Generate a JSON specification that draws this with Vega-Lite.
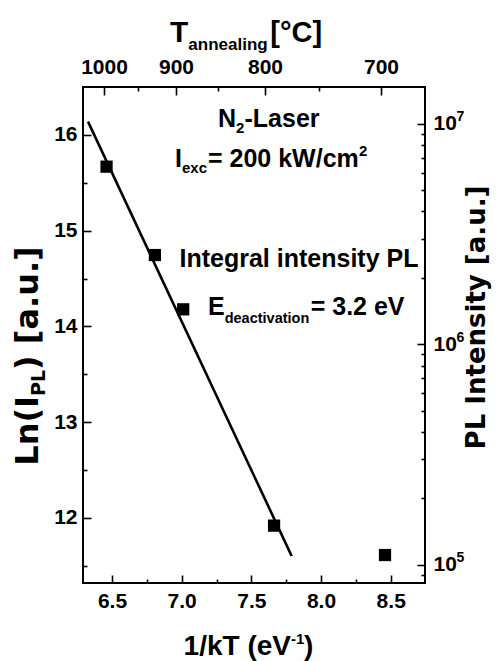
{
  "$schema": "https://vega.github.io/schema/vega-lite/v6.json",
  "width": 342,
  "height": 496,
  "autosize": {"type": "none"},
  "padding": {"left": 83, "top": 87, "right": 77, "bottom": 78},
  "config": {
    "font": "Liberation Sans",
    "view": {"stroke": "#000", "strokeWidth": 2},
    "axis": {"domain": false, "grid": false, "tickColor": "#000", "tickWidth": 1.6, "labelFont": "Liberation Sans", "labelFontWeight": "bold", "labelFontSize": 21, "labelColor": "#000", "titleFont": "Liberation Sans", "titleFontWeight": "bold", "titleFontSize": 27, "titleColor": "#000", "labelFlush": false, "labelOverlap": false},
    "text": {"font": "Liberation Sans", "fontWeight": "bold", "color": "#000"}
  },
  "datasets": {
    "pts": [
      {"x": 6.461, "y": 15.669},
      {"x": 6.808, "y": 14.746},
      {"x": 7.011, "y": 14.179},
      {"x": 7.663, "y": 11.92},
      {"x": 8.459, "y": 11.613}
    ],
    "fit": [
      {"x": 6.328, "y": 16.139},
      {"x": 7.789, "y": 11.603}
    ],
    "one": [{}]
  },
  "resolve": {"axis": {"x": "independent", "y": "independent"}},
  "layer": [
    {
      "data": {"name": "pts"},
      "mark": {"type": "square", "size": 150, "filled": true, "color": "#000", "opacity": 1},
      "encoding": {
        "x": {"field": "x", "type": "quantitative", "scale": {"domain": [6.292, 8.746], "nice": false, "zero": false},
              "axis": {"orient": "bottom", "values": [6.5, 7, 7.5, 8, 8.5], "format": ".1f", "tickSize": -8, "labelPadding": 15, "title": null}},
        "y": {"field": "y", "type": "quantitative", "scale": {"domain": [11.321, 16.501], "nice": false, "zero": false},
              "axis": {"orient": "left", "values": [12, 13, 14, 15, 16], "tickSize": -8, "labelPadding": 14, "title": null}}
      }
    },
    {
      "data": {"name": "fit"},
      "mark": {"type": "line", "color": "#000", "strokeWidth": 2.6},
      "encoding": {
        "x": {"field": "x", "type": "quantitative", "scale": {"domain": [6.292, 8.746], "nice": false, "zero": false}, "axis": null},
        "y": {"field": "y", "type": "quantitative", "scale": {"domain": [11.321, 16.501], "nice": false, "zero": false}, "axis": null}
      }
    },
    {
      "data": {"name": "pts"},
      "mark": {"type": "point", "opacity": 0},
      "encoding": {
        "x": {"field": "x", "type": "quantitative", "scale": {"domain": [6.292, 8.746], "nice": false, "zero": false},
              "axis": {"orient": "bottom", "values": [6.75, 7.25, 7.75, 8.25], "labels": false, "tickSize": -4, "title": null}},
        "y": {"field": "y", "type": "quantitative", "scale": {"domain": [11.321, 16.501], "nice": false, "zero": false},
              "axis": {"orient": "left", "values": [11.5, 12.5, 13.5, 14.5, 15.5], "labels": false, "tickSize": -4, "title": null}}
      }
    },
    {
      "data": {"name": "pts"},
      "mark": {"type": "point", "opacity": 0},
      "encoding": {
        "x": {"field": "x", "type": "quantitative", "scale": {"domain": [6.292, 8.746], "nice": false, "zero": false},
              "axis": {"orient": "top", "values": [6.4427, 6.9593, 7.5979, 8.4302], "labelExpr": "datum.value < 6.7 ? '1000' : datum.value < 7.3 ? '900' : datum.value < 8 ? '800' : '700'", "tickSize": -8, "labelPadding": 18, "title": null}},
        "y": {"field": "y", "type": "quantitative", "scale": {"domain": [11.321, 16.501], "nice": false, "zero": false},
              "axis": {"orient": "right", "values": [11.5129, 13.8155, 16.1181], "labelExpr": "'10'", "tickSize": -8, "labelPadding": 16, "title": null}}
      }
    },
    {
      "data": {"name": "pts"},
      "mark": {"type": "point", "opacity": 0},
      "encoding": {
        "x": {"field": "x", "type": "quantitative", "scale": {"domain": [6.292, 8.746], "nice": false, "zero": false},
              "axis": {"orient": "top", "values": [6.6888, 7.2585, 7.9875], "labels": false, "tickSize": -4, "title": null}},
        "y": {"field": "y", "type": "quantitative", "scale": {"domain": [11.321, 16.501], "nice": false, "zero": false},
              "axis": {"orient": "right", "values": [11.4076, 12.2061, 12.6115, 12.8992, 13.1224, 13.3047, 13.4588, 13.5924, 13.7102, 14.5087, 14.9141, 15.2018, 15.4249, 15.6073, 15.7614, 15.895, 16.0128], "labels": false, "tickSize": -4, "title": null}}
      }
    },
    {
      "data": {"name": "pts"},
      "mark": {"type": "point", "opacity": 0},
      "encoding": {
        "x": {"field": "x", "type": "quantitative", "scale": {"domain": [6.292, 8.746], "nice": false, "zero": false}, "axis": null},
        "y": {"field": "y", "type": "quantitative", "scale": {"domain": [11.321, 16.501], "nice": false, "zero": false},
              "axis": {"orient": "right", "values": [11.5129, 13.8155, 16.1181], "labelExpr": "datum.value < 12 ? '5' : datum.value < 15 ? '6' : '7'", "ticks": false, "labelPadding": 31, "labelOffset": -7, "labelFontSize": 14, "labelAlign": "left", "title": "PL Intensity [a.u.]", "titleFont": "DejaVu Sans", "titleFontSize": 26, "titleAngle": 270, "titlePadding": 26, "titleY": 230}}
      }
    },
    {
      "data": {"name": "one"},
      "mark": {"type": "text", "text": "T", "align": "right", "baseline": "alphabetic", "fontSize": 30},
      "encoding": {"x": {"datum": 7.0476, "type": "quantitative", "scale": {"domain": [6.292, 8.746], "nice": false, "zero": false}, "axis": null},
                   "y": {"datum": 16.971, "type": "quantitative", "scale": {"domain": [11.321, 16.501], "nice": false, "zero": false}, "axis": null}}
    },
    {
      "data": {"name": "one"},
      "mark": {"type": "text", "text": "annealing", "align": "left", "baseline": "alphabetic", "fontSize": 17, "dy": 8},
      "encoding": {"x": {"datum": 7.0476, "type": "quantitative", "scale": {"domain": [6.292, 8.746], "nice": false, "zero": false}, "axis": null},
                   "y": {"datum": 16.971, "type": "quantitative", "scale": {"domain": [11.321, 16.501], "nice": false, "zero": false}, "axis": null}}
    },
    {
      "data": {"name": "one"},
      "mark": {"type": "text", "text": "[°C]", "align": "left", "baseline": "alphabetic", "fontSize": 29, "dx": 82},
      "encoding": {"x": {"datum": 7.0476, "type": "quantitative", "scale": {"domain": [6.292, 8.746], "nice": false, "zero": false}, "axis": null},
                   "y": {"datum": 16.971, "type": "quantitative", "scale": {"domain": [11.321, 16.501], "nice": false, "zero": false}, "axis": null}}
    },
    {
      "data": {"name": "one"},
      "mark": {"type": "text", "text": "1/kT (eV", "align": "right", "baseline": "alphabetic", "fontSize": 28},
      "encoding": {"x": {"datum": 7.7845, "type": "quantitative", "scale": {"domain": [6.292, 8.746], "nice": false, "zero": false}, "axis": null},
                   "y": {"datum": 10.569, "type": "quantitative", "scale": {"domain": [11.321, 16.501], "nice": false, "zero": false}, "axis": null}}
    },
    {
      "data": {"name": "one"},
      "mark": {"type": "text", "text": "-1", "align": "left", "baseline": "alphabetic", "fontSize": 15, "dy": -11},
      "encoding": {"x": {"datum": 7.7845, "type": "quantitative", "scale": {"domain": [6.292, 8.746], "nice": false, "zero": false}, "axis": null},
                   "y": {"datum": 10.569, "type": "quantitative", "scale": {"domain": [11.321, 16.501], "nice": false, "zero": false}, "axis": null}}
    },
    {
      "data": {"name": "one"},
      "mark": {"type": "text", "text": ")", "align": "left", "baseline": "alphabetic", "fontSize": 28, "dx": 13},
      "encoding": {"x": {"datum": 7.7845, "type": "quantitative", "scale": {"domain": [6.292, 8.746], "nice": false, "zero": false}, "axis": null},
                   "y": {"datum": 10.569, "type": "quantitative", "scale": {"domain": [11.321, 16.501], "nice": false, "zero": false}, "axis": null}}
    },
    {
      "data": {"name": "one"},
      "mark": {"type": "text", "text": "Ln(I", "align": "right", "baseline": "alphabetic", "fontSize": 32, "angle": 270, "font": "DejaVu Sans"},
      "encoding": {"x": {"datum": 5.969, "type": "quantitative", "scale": {"domain": [6.292, 8.746], "nice": false, "zero": false}, "axis": null},
                   "y": {"datum": 13.274, "type": "quantitative", "scale": {"domain": [11.321, 16.501], "nice": false, "zero": false}, "axis": null}}
    },
    {
      "data": {"name": "one"},
      "mark": {"type": "text", "text": "PL", "align": "left", "baseline": "alphabetic", "fontSize": 19, "angle": 270, "dy": 7, "font": "DejaVu Sans"},
      "encoding": {"x": {"datum": 5.969, "type": "quantitative", "scale": {"domain": [6.292, 8.746], "nice": false, "zero": false}, "axis": null},
                   "y": {"datum": 13.274, "type": "quantitative", "scale": {"domain": [11.321, 16.501], "nice": false, "zero": false}, "axis": null}}
    },
    {
      "data": {"name": "one"},
      "mark": {"type": "text", "text": ") [a.u.]", "align": "left", "baseline": "alphabetic", "fontSize": 32, "angle": 270, "dx": 26, "font": "DejaVu Sans"},
      "encoding": {"x": {"datum": 5.969, "type": "quantitative", "scale": {"domain": [6.292, 8.746], "nice": false, "zero": false}, "axis": null},
                   "y": {"datum": 13.274, "type": "quantitative", "scale": {"domain": [11.321, 16.501], "nice": false, "zero": false}, "axis": null}}
    },
    {
      "data": {"name": "one"},
      "mark": {"type": "text", "text": "N", "align": "right", "baseline": "alphabetic", "fontSize": 25},
      "encoding": {"x": {"datum": 7.3898, "type": "quantitative", "scale": {"domain": [6.292, 8.746], "nice": false, "zero": false}, "axis": null},
                   "y": {"datum": 16.0833, "type": "quantitative", "scale": {"domain": [11.321, 16.501], "nice": false, "zero": false}, "axis": null}}
    },
    {
      "data": {"name": "one"},
      "mark": {"type": "text", "text": "2", "align": "left", "baseline": "alphabetic", "fontSize": 15, "dy": 6},
      "encoding": {"x": {"datum": 7.3898, "type": "quantitative", "scale": {"domain": [6.292, 8.746], "nice": false, "zero": false}, "axis": null},
                   "y": {"datum": 16.0833, "type": "quantitative", "scale": {"domain": [11.321, 16.501], "nice": false, "zero": false}, "axis": null}}
    },
    {
      "data": {"name": "one"},
      "mark": {"type": "text", "text": "-Laser", "align": "left", "baseline": "alphabetic", "fontSize": 25, "dx": 8.5},
      "encoding": {"x": {"datum": 7.3898, "type": "quantitative", "scale": {"domain": [6.292, 8.746], "nice": false, "zero": false}, "axis": null},
                   "y": {"datum": 16.0833, "type": "quantitative", "scale": {"domain": [11.321, 16.501], "nice": false, "zero": false}, "axis": null}}
    },
    {
      "data": {"name": "one"},
      "mark": {"type": "text", "text": "I", "align": "right", "baseline": "alphabetic", "fontSize": 25},
      "encoding": {"x": {"datum": 7.0023, "type": "quantitative", "scale": {"domain": [6.292, 8.746], "nice": false, "zero": false}, "axis": null},
                   "y": {"datum": 15.6655, "type": "quantitative", "scale": {"domain": [11.321, 16.501], "nice": false, "zero": false}, "axis": null}}
    },
    {
      "data": {"name": "one"},
      "mark": {"type": "text", "text": "exc", "align": "left", "baseline": "alphabetic", "fontSize": 15, "dy": 6},
      "encoding": {"x": {"datum": 7.0023, "type": "quantitative", "scale": {"domain": [6.292, 8.746], "nice": false, "zero": false}, "axis": null},
                   "y": {"datum": 15.6655, "type": "quantitative", "scale": {"domain": [11.321, 16.501], "nice": false, "zero": false}, "axis": null}}
    },
    {
      "data": {"name": "one"},
      "mark": {"type": "text", "text": "= 200 kW/cm", "align": "left", "baseline": "alphabetic", "fontSize": 25, "dx": 26},
      "encoding": {"x": {"datum": 7.0023, "type": "quantitative", "scale": {"domain": [6.292, 8.746], "nice": false, "zero": false}, "axis": null},
                   "y": {"datum": 15.6655, "type": "quantitative", "scale": {"domain": [11.321, 16.501], "nice": false, "zero": false}, "axis": null}}
    },
    {
      "data": {"name": "one"},
      "mark": {"type": "text", "text": "2", "align": "left", "baseline": "alphabetic", "fontSize": 15, "dx": 177, "dy": -11},
      "encoding": {"x": {"datum": 7.0023, "type": "quantitative", "scale": {"domain": [6.292, 8.746], "nice": false, "zero": false}, "axis": null},
                   "y": {"datum": 15.6655, "type": "quantitative", "scale": {"domain": [11.321, 16.501], "nice": false, "zero": false}, "axis": null}}
    },
    {
      "data": {"name": "one"},
      "mark": {"type": "text", "text": "Integral intensity PL", "align": "center", "baseline": "alphabetic", "fontSize": 25},
      "encoding": {"x": {"datum": 7.8418, "type": "quantitative", "scale": {"domain": [6.292, 8.746], "nice": false, "zero": false}, "axis": null},
                   "y": {"datum": 14.6211, "type": "quantitative", "scale": {"domain": [11.321, 16.501], "nice": false, "zero": false}, "axis": null}}
    },
    {
      "data": {"name": "one"},
      "mark": {"type": "text", "text": "E", "align": "right", "baseline": "alphabetic", "fontSize": 25},
      "encoding": {"x": {"datum": 7.3087, "type": "quantitative", "scale": {"domain": [6.292, 8.746], "nice": false, "zero": false}, "axis": null},
                   "y": {"datum": 14.1198, "type": "quantitative", "scale": {"domain": [11.321, 16.501], "nice": false, "zero": false}, "axis": null}}
    },
    {
      "data": {"name": "one"},
      "mark": {"type": "text", "text": "deactivation", "align": "left", "baseline": "alphabetic", "fontSize": 14.5, "dy": 8},
      "encoding": {"x": {"datum": 7.3087, "type": "quantitative", "scale": {"domain": [6.292, 8.746], "nice": false, "zero": false}, "axis": null},
                   "y": {"datum": 14.1198, "type": "quantitative", "scale": {"domain": [11.321, 16.501], "nice": false, "zero": false}, "axis": null}}
    },
    {
      "data": {"name": "one"},
      "mark": {"type": "text", "text": "= 3.2 eV", "align": "left", "baseline": "alphabetic", "fontSize": 25, "dx": 86},
      "encoding": {"x": {"datum": 7.3087, "type": "quantitative", "scale": {"domain": [6.292, 8.746], "nice": false, "zero": false}, "axis": null},
                   "y": {"datum": 14.1198, "type": "quantitative", "scale": {"domain": [11.321, 16.501], "nice": false, "zero": false}, "axis": null}}
    }
  ]
}
